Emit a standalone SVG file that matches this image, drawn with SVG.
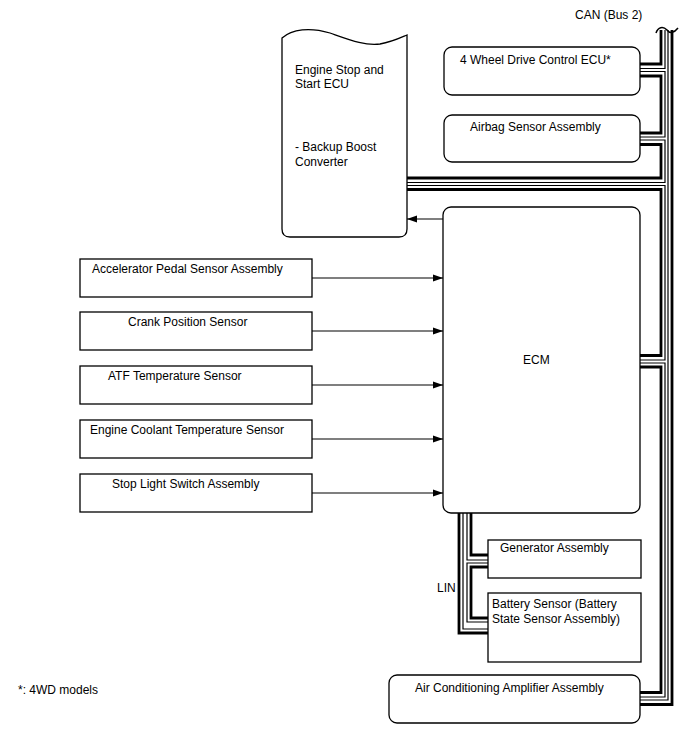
<svg xmlns="http://www.w3.org/2000/svg" width="688" height="755" viewBox="0 0 688 755">
<style>
.box{fill:#fff;stroke:#000;stroke-width:1.3}
.t{font-family:"Liberation Sans",Arial,Helvetica,sans-serif;font-size:12px;fill:#000}
.bk{fill:none;stroke:#000;stroke-width:2.8}
.bn{fill:none;stroke:#000;stroke-width:1.2}
.ar{fill:none;stroke:#000;stroke-width:1.2;marker-end:url(#ah)}
</style>
<defs>
<marker id="ah" markerWidth="10" markerHeight="8" refX="10" refY="4" orient="auto" markerUnits="userSpaceOnUse">
<path d="M0,0.5 L10,4 L0,7.5 Z" fill="#000"/>
</marker>
</defs>
<rect width="688" height="755" fill="#fff"/>

<g id="connectors">
<!-- CAN bus tube 2 (continuous) -->
<path class="bn" d="M668,30 V700 H640"/>
<path class="bk" d="M672,30 V704.5 H640"/>
<!-- CAN bus tube 1 (through each device) -->
<path class="bk" d="M661,30 V64 H640"/>
<path class="bn" d="M665,30 V68.5 H640"/>
<path class="bn" d="M640,71.5 H665 V137 H640"/>
<path class="bk" d="M640,76 H661 V133 H640"/>
<path class="bn" d="M640,140 H665 V182.5 H407"/>
<path class="bk" d="M640,144.5 H661 V178 H407"/>
<path class="bn" d="M407,185.5 H665 V360 H640"/>
<path class="bk" d="M407,189.5 H661 V355.5 H640"/>
<path class="bn" d="M640,363 H665 V697 H640"/>
<path class="bk" d="M640,367 H661 V692.5 H640"/>
<!-- wave break at top of CAN bus -->
<path d="M656,33 C658,27 663,26 667,30 C670,34 674,33 678,28" fill="none" stroke="#000" stroke-width="1.5"/>
<!-- LIN bus -->
<path class="bk" d="M459,513 V633 H488"/>
<path class="bn" d="M463,513 V629 H488"/>
<path class="bn" d="M467,513 V560 H488"/>
<path class="bk" d="M471,513 V555 H488"/>
<path class="bn" d="M488,563 H467 V622 H488"/>
<path class="bk" d="M488,567 H471 V618 H488"/>
<!-- signal arrows -->
<path class="ar" d="M443,219 H407"/>
<path class="ar" d="M312,278 H443"/>
<path class="ar" d="M312,331 H443"/>
<path class="ar" d="M312,385 H443"/>
<path class="ar" d="M312,439 H443"/>
<path class="ar" d="M312,493 H443"/>
</g>

<g id="can-label"><text class="t" x="575" y="19">CAN (Bus 2)</text></g>
<g id="lin-label"><text class="t" x="437" y="592">LIN</text></g>

<g id="ess-ecu">
<path class="box" d="M282,38 C292,29 310,27 330,33 C350,40 365,46 380,44 C392,42 400,38 407,35 V229 Q407,237 399,237 H290 Q282,237 282,229 Z"/>
<text class="t" x="295" y="74">Engine Stop and</text>
<text class="t" x="295" y="88">Start ECU</text>
<text class="t" x="295" y="151">- Backup Boost</text>
<text class="t" x="295" y="166">Converter</text>
</g>

<g id="awd-ecu">
<rect class="box" x="444" y="47" width="196" height="48" rx="8"/>
<text class="t" x="460" y="64">4 Wheel Drive Control ECU*</text>
</g>

<g id="airbag">
<rect class="box" x="444" y="115" width="196" height="47" rx="8"/>
<text class="t" x="470" y="131">Airbag Sensor Assembly</text>
</g>

<g id="ecm">
<rect class="box" x="443" y="207" width="197" height="306" rx="8"/>
<text class="t" x="523" y="364">ECM</text>
</g>

<g id="accel">
<rect class="box" x="80" y="259" width="232" height="38"/>
<text class="t" x="92" y="273">Accelerator Pedal Sensor Assembly</text>
</g>
<g id="crank">
<rect class="box" x="80" y="312" width="232" height="38"/>
<text class="t" x="128" y="326">Crank Position Sensor</text>
</g>
<g id="atf">
<rect class="box" x="80" y="366" width="232" height="38"/>
<text class="t" x="108" y="380">ATF Temperature Sensor</text>
</g>
<g id="coolant">
<rect class="box" x="80" y="420" width="232" height="38"/>
<text class="t" x="90" y="434">Engine Coolant Temperature Sensor</text>
</g>
<g id="stoplight">
<rect class="box" x="80" y="474" width="232" height="38"/>
<text class="t" x="112" y="488">Stop Light Switch Assembly</text>
</g>

<g id="generator">
<rect class="box" x="488" y="540" width="153" height="38"/>
<text class="t" x="500" y="552">Generator Assembly</text>
</g>
<g id="battery">
<rect class="box" x="488" y="593" width="153" height="69"/>
<text class="t" x="492" y="608">Battery Sensor (Battery</text>
<text class="t" x="492" y="623">State Sensor Assembly)</text>
</g>

<g id="ac-amp">
<rect class="box" x="389" y="675" width="251" height="48" rx="8"/>
<text class="t" x="415" y="692">Air Conditioning Amplifier Assembly</text>
</g>

<g id="note"><text class="t" x="18" y="694">*: 4WD models</text></g>
</svg>
